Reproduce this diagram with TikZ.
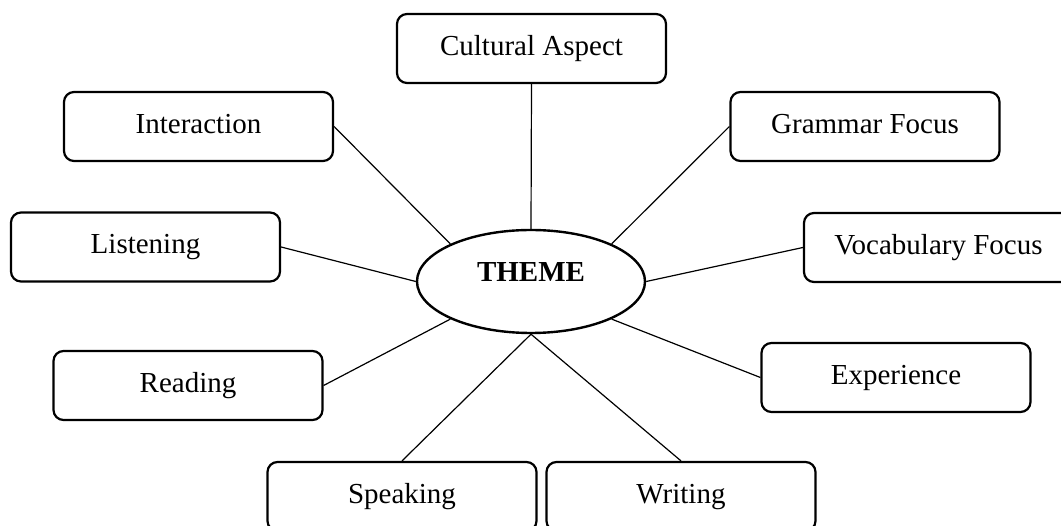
\documentclass[tikz,border=0pt]{standalone}
\usepackage{fontspec}
\setmainfont{Liberation Serif}
\usetikzlibrary{shapes.geometric}
\begin{document}
\begin{tikzpicture}[x=1pt,y=-1pt,
  topic/.style={draw, line width=2.2pt, rounded corners=10pt, minimum width=269pt, minimum height=69pt, inner sep=0pt,
    font=\fontsize{29}{34}\selectfont, text height=20pt, text depth=6pt},
  link/.style={line width=1.2pt},
  themebox/.style={draw, ellipse, line width=2.4pt, minimum width=228pt, minimum height=103pt, inner sep=0pt,
    font=\fontsize{29}{34}\selectfont\bfseries, text height=0pt, text depth=0pt}]
\clip (0,0) rectangle (1061,526);
\fill[white] (0,0) rectangle (1061,526);
\node[themebox] (theme) at (531,281.5) {THEME};
\node[topic] (cult) at (531.5,48.5) {Cultural Aspect};
\node[topic] (inter) at (198.5,126.5) {Interaction};
\node[topic] (gram) at (865,126.5) {Grammar Focus};
\node[topic] (list) at (145.5,247) {Listening};
\node[topic] (voc) at (938.5,247.5) {Vocabulary Focus};
\node[topic] (read) at (188,385.5) {Reading};
\node[topic] (exp) at (896,377.5) {Experience};
\node[topic] (speak) at (402,496.5) {Speaking};
\node[topic] (write) at (681,496.5) {Writing};
\draw[link] (cult.south) -- (theme.north);
\draw[link] (inter.east) -- (theme.155);
\draw[link] (gram.west) -- (theme.25);
\draw[link] (list.east) -- (theme.west);
\draw[link] (voc.west) -- (theme.east);
\draw[link] (read.east) -- (theme.205);
\draw[link] (exp.west) -- (theme.335);
\draw[link] (speak.north) -- (theme.south);
\draw[link] (write.north) -- (theme.south);
\end{tikzpicture}
\end{document}
